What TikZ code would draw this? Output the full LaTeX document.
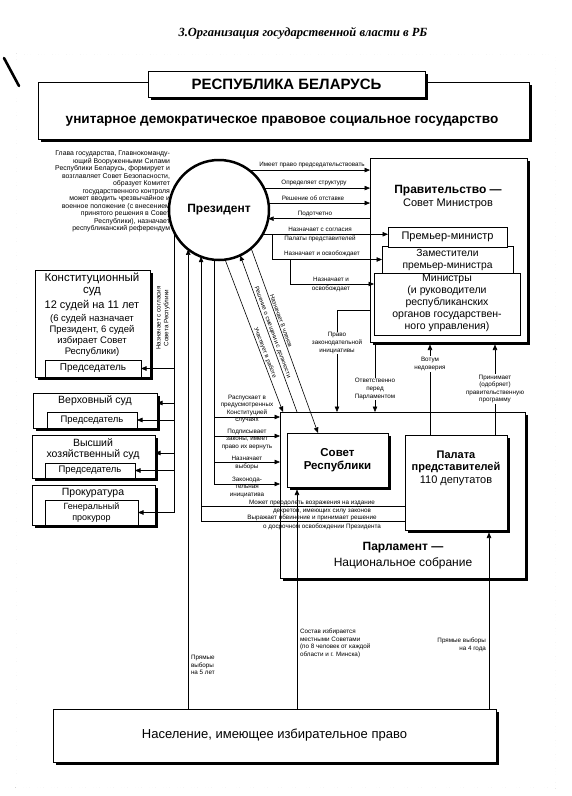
\documentclass[tikz,border=0pt]{standalone}
\usepackage{fontspec}
\setmainfont{Liberation Sans}
\newfontfamily\titlefont{Liberation Serif}
\usetikzlibrary{arrows.meta,calc,shadows}
\begin{document}
\begin{tikzpicture}[x=1pt,y=-1pt,
  every node/.style={inner sep=0pt,outer sep=0pt},
  ln/.style={line width=0.6pt},
  arr/.style={ln,-{Triangle[length=5.5pt,width=4.5pt]}},
  rarr/.style={ln,{Triangle[length=5.5pt,width=4.5pt]}-},
  sbox/.style={draw,fill=white,line width=0.8pt,anchor=north west,
    drop shadow={shadow xshift=2.5pt,shadow yshift=-2.5pt,fill=black,opacity=1}},
  qbox/.style={draw,fill=white,line width=0.7pt,anchor=north west,
    drop shadow={shadow xshift=1.2pt,shadow yshift=-1.2pt,fill=black,opacity=1}},
  pbox/.style={draw,fill=white,line width=0.7pt,anchor=north west},
  tiny/.style={font=\fontsize{6.3}{7.6}\selectfont,align=center},
  dlab/.style={font=\fontsize{6}{7}\selectfont,sloped,above=1.5pt},
  lbl/.style={tiny,fill=white,inner sep=1pt},
  big/.style={font=\bfseries\fontsize{12}{14}\selectfont},
  mid/.style={font=\fontsize{10.5}{12}\selectfont},
]
\useasboundingbox (0,0) rectangle (571,796);
% outer border and title
\draw[line width=0.6pt,double distance=1.2pt,dash pattern=on 1.5pt off 1.3pt,black!85] (16,54) rectangle (556,788);
\draw[line width=2.6pt,line cap=round] (4,58) -- (19,86);
\node[font=\titlefont\bfseries\itshape\fontsize{12.5}{14}\selectfont] (title) at (303,33) {3.Организация государственной власти в РБ};
% header
\node[sbox,minimum width=491pt,minimum height=57pt] (rep) at (38,82) {};
\node[font=\bfseries\fontsize{13.6}{15}\selectfont] (reptext) at (282,121) {унитарное демократическое правовое социальное государство};
\node[sbox,minimum width=277pt,minimum height=26pt,font=\bfseries\fontsize{15}{17}\selectfont] (hdr) at (148,71) {РЕСПУБЛИКА БЕЛАРУСЬ};
% president text
\node[anchor=north east,align=right,font=\fontsize{6.9}{7.5}\selectfont] (ptext) at (170,151) {Глава государства, Главнокоманду-\\ющий Вооруженными Силами\\Республики Беларусь, формирует и\\возглавляет Совет Безопасности,\\образует Комитет\\государственного контроля\\может вводить чрезвычайное и\\военное положение (с внесением\\принятого решения в Совет\\Республики), назначает\\республиканский референдум};
\node[draw,circle,line width=2.5pt,minimum size=100pt,fill=white,font=\bfseries\fontsize{12}{14}\selectfont] (pres) at (219,210) {Президент};
% government
\node[sbox,minimum width=157pt,minimum height=184pt] (gov) at (370,158) {};
\node[big] (govt1) at (448,191) {Правительство —};
\node[font=\fontsize{11}{12}\selectfont] (govt2) at (448,204) {Совет Министров};
\node[qbox,minimum width=146pt,minimum height=62pt] (mins) at (374,273) {};
\node[align=center,font=\fontsize{10.5}{12}\selectfont] (minst) at (447,303) {Министры\\(и руководители\\республиканских\\органов государствен-\\ного управления)};
\node[qbox,minimum width=131pt,minimum height=27pt,align=center,font=\fontsize{10.3}{12}\selectfont] (zam) at (382,246) {Заместители\\премьер-министра};
\node[qbox,minimum width=119pt,minimum height=20pt,font=\fontsize{11}{12}\selectfont] (pm) at (388,227) {Премьер-министр};
% courts
\node[sbox,minimum width=115pt,minimum height=107pt] (cc) at (35,270) {};
\node[font=\fontsize{11.5}{13}\selectfont] (cc1) at (92,278) {Конституционный};
\node[font=\fontsize{11.5}{13}\selectfont] (cc2) at (92,292) {суд};
\node[font=\fontsize{11}{13}\selectfont] (cc3) at (92,306) {12 судей на 11 лет};
\node[font=\fontsize{9.5}{11}\selectfont] (cc4) at (92,319) {(6 судей назначает};
\node[font=\fontsize{9.5}{11}\selectfont] (cc5) at (92,330) {Президент, 6 судей};
\node[font=\fontsize{9.5}{11}\selectfont] (cc6) at (92,341) {избирает Совет};
\node[font=\fontsize{9.5}{11}\selectfont] (cc7) at (92,352) {Республики)};
\node[pbox,minimum width=96pt,minimum height=17pt,font=\fontsize{10}{12}\selectfont] (ccp) at (45,360) {Председатель};
\node[sbox,minimum width=124pt,minimum height=35pt] (vs) at (33,393) {};
\node[mid] (vst) at (95,401) {Верховный суд};
\node[pbox,minimum width=90pt,minimum height=16pt,font=\fontsize{9.5}{11}\selectfont] (vsp) at (47,412) {Председатель};
\node[sbox,minimum width=123pt,minimum height=43pt] (vhs) at (32,435) {};
\node[mid] (vht1) at (93,443) {Высший};
\node[mid] (vht2) at (93,455) {хозяйственный суд};
\node[pbox,minimum width=90pt,minimum height=15pt,font=\fontsize{9.5}{11}\selectfont] (vhsp) at (45,463) {Председатель};
\node[sbox,minimum width=123pt,minimum height=40pt] (pr) at (32,485) {};
\node[mid] (prt) at (93,493) {Прокуратура};
\node[pbox,minimum width=93pt,minimum height=25pt,align=center,font=\fontsize{9}{10.5}\selectfont] (gp) at (45,500) {Генеральный\\прокурор};
% parliament
\node[sbox,minimum width=245pt,minimum height=166pt] (parl) at (280,412) {};
\node[sbox,minimum width=101pt,minimum height=54pt,align=center,font=\bfseries\fontsize{11.5}{13}\selectfont] (sovet) at (287,433) {Совет\\Республики};
\node[sbox,minimum width=102pt,minimum height=95pt] (palata) at (405,435) {};
\node[font=\bfseries\fontsize{11}{13}\selectfont] (pal1) at (456,455) {Палата};
\node[font=\bfseries\fontsize{11}{13}\selectfont] (pal2) at (456,468) {представителей};
\node[font=\fontsize{11}{13}\selectfont] (pal3) at (456,481) {110 депутатов};
\node[big] (parlt1) at (403,548) {Парламент —};
\node[font=\fontsize{12}{14}\selectfont] (parlt2) at (403,563) {Национальное собрание};
% population
\node[sbox,minimum width=443pt,minimum height=53pt,font=\fontsize{13}{15}\selectfont] (pop) at (53,709) {Население, имеющее избирательное право};

% president -> government
\draw[arr] (pres.53) -- (pres.53 -| gov.west);
\draw[arr] (pres.26) -- (pres.26 -| gov.west);
\draw[arr] (pres.8) -- (pres.8 -| gov.west);
\draw[rarr] (pres.-10) -- (pres.-10 -| gov.west);
\draw[arr] (pres.-29) -- (pres.-29 -| pm.west);
\path (pres.-29 -| gov.west) ++(-98,0) coordinate (br1);
\draw[arr] (br1) |- (zam.west);
\path (br1 |- zam.west) ++(18,0) coordinate (br2);
\draw[arr] (br2) |- ($(mins.north west)+(0,11)$);
\node[tiny,anchor=south] (l1) at (312,168) {Имеет право председательствовать};
\node[tiny,anchor=south] (l2) at (314,186) {Определяет структуру};
\node[tiny,anchor=south] (l3) at (313,201) {Решение об отставке};
\node[tiny,anchor=south] (l4) at (315,217) {Подотчетно};
\node[tiny,anchor=south] (l5) at (320,232) {Назначает с согласия};
\node[tiny,anchor=north] (l6) at (320,236) {Палаты представителей};
\node[tiny,anchor=south] (l7) at (322,257) {Назначает и освобождает};
\node[tiny,anchor=south] (l8) at (331,282) {Назначает и};
\node[tiny,anchor=north] (l9) at (331,286) {освобождает};

% president -> courts
\draw[arr] (pres.-154) |- (ccp.east);
\draw[arr] (pres.-154) |- ($(vs.north east)+(0,10)$);
\draw[arr] (pres.-154) |- (vsp.east);
\draw[arr] (pres.-154) |- ($(vhs.north east)+(0,18)$);
\draw[arr] (pres.-154) |- (vhsp.east);
\draw[arr] (pres.-154) |- (gp.east);
\node[tiny,rotate=90] (lc) at (163,318) {Назначает с согласия\\Совета Республики};

% president -> parliament (left bus)
\draw[arr] (pres.-95) |- ($(parl.north west)+(0,5)$);
\draw[arr] (pres.-95) |- ($(parl.north west)+(0,24)$);
\draw[arr] (pres.-95) |- ($(parl.north west)+(0,50)$);
\draw[arr] (pres.-95) |- ($(parl.north west)+(0,72)$);
\node[tiny,anchor=south] (p1) at (247,415.5) {Распускает в\\предусмотренных\\Конституцией};
\node[tiny,anchor=north] (p2) at (247,418.5) {случаях};
\node[tiny,anchor=south] (p3) at (247,434.5) {Подписывает};
\node[tiny,anchor=north] (p4) at (247,437.5) {законы, имеет\\право их вернуть};
\node[tiny,anchor=south] (p5) at (247,460.5) {Назначает};
\node[tiny,anchor=north] (p6) at (247,463.5) {выборы};
\node[tiny,anchor=south] (p7) at (247,482.5) {Законода-};
\node[tiny,anchor=north] (p8) at (247,485.5) {тельная\\инициатива};

% palata -> president
\draw[rarr] (pres.-111) |- ($(palata.north west)+(0,86)$);
\draw[ln] ($(palata.north west)+(0,71)$) coordinate (pl7) -- (pl7 -| pres.-111);
\node[tiny,anchor=base] (q1) at (312,504) {Может преодолеть возражения на издание};
\node[tiny,anchor=base] (q2) at (322,512) {декретов, имеющих силу законов};
\node[tiny,anchor=base] (q3) at (312,519.5) {Выражает обвинение и принимает решение};
\node[tiny,anchor=base] (q4) at (322,528) {о досрочном освобождении Президента};

% diagonals
\draw[arr] (pres.-83) -- node[dlab,pos=0.62] {Участвует в работе} ($(parl.north west)+(3,0)$);
\draw[rarr] (pres.-65) -- node[dlab,pos=0.5] {Решение о смещении с должности} ($(parl.north west)+(17,0)$);
\draw[arr] (pres.-50) -- node[dlab,pos=0.4] {Назначает 8 членов} ($(sovet.north west)+(31,0)$);

% government <-> parliament
\draw[arr] ($(gov.north west)+(0,152)$) -| ($(parl.north west)+(57,0)$);
\draw[arr] ($(gov.south west)+(5,2.5)$) -- ($(parl.north west)+(95,0)$);
\draw[rarr] ($(gov.south west)+(60,2.5)$) -- ($(palata.north west)+(25,0)$);
\draw[rarr] ($(gov.south west)+(125,2.5)$) -- ($(palata.north west)+(90,0)$);
\node[lbl] (g1) at (337,343) {Право\\законодательной\\инициативы};
\node[lbl] (g2) at (375,389) {Ответственно\\перед\\Парламентом};
\node[lbl] (g3) at (430,364) {Вотум\\недоверия};
\node[lbl] (g4) at (495,389) {Принимает\\(одобряет)\\правительственную\\программу};

% population -> institutions
\draw[arr] (pop.north -| pres.-128) -- (pres.-128);
\draw[rarr] ($(sovet.south west)+(10,2.5)$) coordinate (m1) -- (m1 |- pop.north);
\draw[rarr] ($(palata.south east)+(-18,2.5)$) coordinate (m2) -- (m2 |- pop.north);
\node[tiny,anchor=west,align=left] (e1) at (191,665) {Прямые\\выборы\\на 5 лет};
\node[tiny,anchor=north west,align=left] (e2) at (300,629) {Состав избирается\\местными Советами\\(по 8 человек от каждой\\области и г. Минска)};
\node[tiny,anchor=east,align=right] (e3) at (486,645) {Прямые выборы\\на 4 года};
\end{tikzpicture}
\end{document}
